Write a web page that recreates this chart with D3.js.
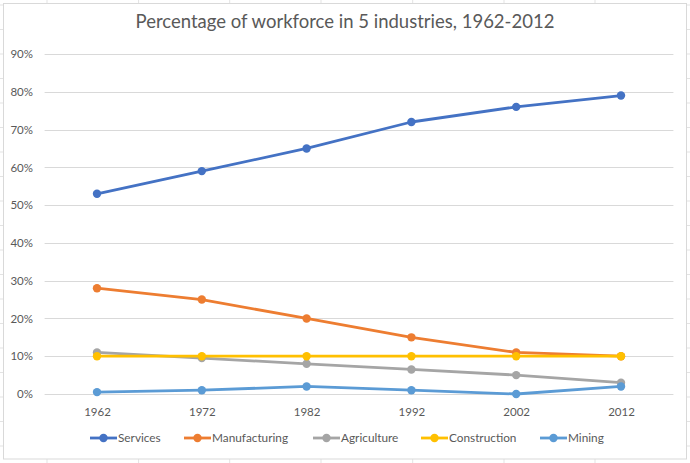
<!DOCTYPE html>
<html><head><meta charset="utf-8">
<script src="https://cdn.jsdelivr.net/npm/d3@7"></script>
<style>html,body{margin:0;padding:0;background:#fff;}svg{display:block;}</style>
</head><body>
<svg id="chart" width="690" height="463"></svg>
<script>
const years = ["1962","1972","1982","1992","2002","2012"];
const seriesNames = ["Services","Manufacturing","Agriculture","Construction","Mining"];
const services = [53,59,65,72,76,79];
const manufacturing = [28,25,20,15,11,10];
const agriculture = [11,9.5,8,6.5,5,3];
const construction = [10,10,10,10,10,10];
const mining = [0.5,1,2,1,0,2];
const yTicks = [0,10,20,30,40,50,60,70,80,90];
const colors = ["#4472C4","#ED7D31","#A5A5A5","#FFC000","#5B9BD5"];
const titleText = "Percentage of workforce in 5 industries, 1962-2012";

const seriesValues = [services, manufacturing, agriculture, construction, mining];
const series = seriesNames.map((n,i)=>({name:n, values:seriesValues[i], color:colors[i]}));

const svg = d3.select("#chart");
const font = "Lato, 'Open Sans', sans-serif";
const textCol = "#595959";

// spreadsheet background stubs
const colLines = [47,138.6,229.7,321,412.7,504,595];
svg.selectAll("line.col").data(colLines).enter().append("line")
  .attr("x1",d=>d).attr("x2",d=>d).attr("y1",0).attr("y2",463)
  .attr("stroke","#e3e3e3").attr("stroke-width",1);
const rowLines = d3.range(5,463,24.5);
svg.selectAll("line.row").data(rowLines).enter().append("line")
  .attr("x1",0).attr("x2",690).attr("y1",d=>d).attr("y2",d=>d)
  .attr("stroke","#e3e3e3").attr("stroke-width",1);
// chart frame
svg.append("rect").attr("x",3.5).attr("y",3.5).attr("width",683).attr("height",455.5)
  .attr("fill","#fff").attr("stroke","#d9d9d9").attr("stroke-width",1);

const x = d3.scalePoint().domain(years).range([44.6,673.4]).padding(0.5);
const y = d3.scaleLinear().domain([0,90]).range([394,54]);

// gridlines
svg.append("g").selectAll("line").data(yTicks).enter().append("line")
  .attr("x1",44.6).attr("x2",673.4)
  .attr("y1",d=>Math.round(y(d))+0.5).attr("y2",d=>Math.round(y(d))+0.5)
  .attr("stroke","#d9d9d9").attr("stroke-width",1);

// y axis labels
const yAxis = d3.axisLeft(y).tickValues(yTicks).tickFormat(d=>d+"%").tickSize(0).tickPadding(0);
const gy = svg.append("g").attr("transform","translate(33,0)").call(yAxis);
gy.select(".domain").remove();
gy.selectAll("text").attr("font-family",font).attr("font-size","11.5px").attr("fill",textCol);

// x axis labels
const xAxis = d3.axisBottom(x).tickSize(0).tickPadding(0);
const gx = svg.append("g").attr("transform","translate(0,408)").call(xAxis);
gx.select(".domain").remove();
gx.selectAll("text").attr("font-family",font).attr("font-size","11.5px").attr("fill",textCol);

// title
svg.append("text").attr("x",345).attr("y",28).attr("text-anchor","middle")
  .attr("font-family",font).attr("font-size","18.5px").attr("fill",textCol).text(titleText);

// lines
const line = d3.line().x((d,i)=>x(years[i])).y(d=>y(d));
series.forEach(s=>{
  const g = svg.append("g");
  g.append("path").attr("d",line(s.values)).attr("fill","none")
    .attr("stroke",s.color).attr("stroke-width",2.8).attr("stroke-linejoin","round").attr("stroke-linecap","round");
  g.selectAll("circle").data(s.values).enter().append("circle")
    .attr("cx",(d,i)=>x(years[i])).attr("cy",d=>y(d)).attr("r",4.2).attr("fill",s.color);
});

// legend
const legendX = [90,184,313,421,540];
const lg = svg.append("g");
series.forEach((s,i)=>{
  const g = lg.append("g").attr("transform",`translate(${legendX[i]},438)`);
  g.append("line").attr("x1",0).attr("x2",27).attr("y1",0).attr("y2",0)
    .attr("stroke",s.color).attr("stroke-width",2.8);
  g.append("circle").attr("cx",13.5).attr("cy",0).attr("r",4.2).attr("fill",s.color);
  g.append("text").attr("x",28).attr("y",0).attr("dy","0.35em")
    .attr("font-family",font).attr("font-size","11.8px").attr("fill",textCol).text(s.name);
});
</script>
</body></html>
